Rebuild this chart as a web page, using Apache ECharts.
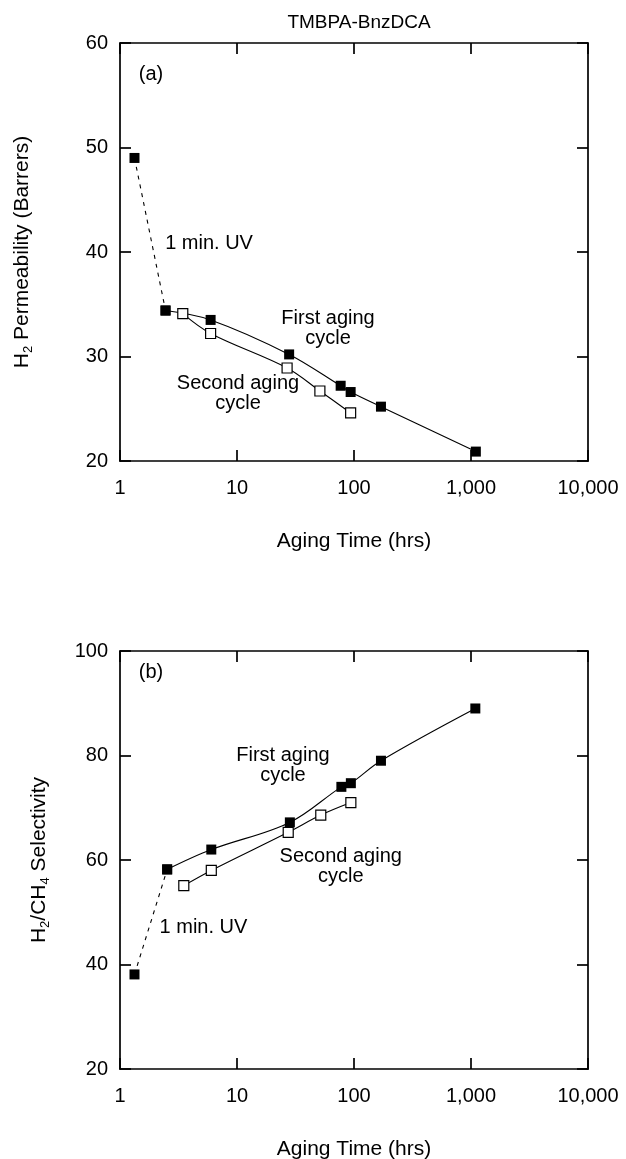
<!DOCTYPE html>
<html>
<head>
<meta charset="utf-8">
<script src="https://cdn.jsdelivr.net/npm/echarts@6/dist/echarts.min.js"></script>
<style>
  html, body { margin: 0; padding: 0; background: #fff; }
  #chart { width: 626px; height: 1159px; }
</style>
</head>
<body>
<div id="chart"></div>
<script>
// aging time ticks (log axis)
const xTicks = [1, 10, 100, 1000, 10000]
const yTicksA = [20, 30, 40, 50, 60]
const yTicksB = [20, 40, 60, 80, 100]

// (a) H2 permeability
const uvTimeA = [1.33, 2.45]
const uvPermA = [49.0, 34.4]
const firstTimeA = [2.45, 5.95, 27.9, 76.9, 93.6, 170, 1100]
const firstPermA = [34.4, 33.5, 30.2, 27.2, 26.6, 25.2, 20.9]
const secondTimeA = [3.44, 5.95, 26.8, 51.1, 93.6]
const secondPermA = [34.1, 32.2, 28.9, 26.7, 24.6]

// (b) H2/CH4 selectivity
const uvTimeB = [1.33, 2.53]
const uvSelB = [38.1, 58.2]
const firstTimeB = [2.53, 6.03, 28.3, 78, 94, 170, 1089]
const firstSelB = [58.2, 62.0, 67.2, 74.0, 74.7, 79.0, 89.0]
const secondTimeB = [3.51, 6.03, 27.4, 52, 94]
const secondSelB = [55.1, 58.0, 65.3, 68.6, 71.0]

// text notes, placed in data coordinates [text, time, value]
const notesA = [
  ['(a)', 1.84, 57.0],
  ['1 min. UV', 5.77, 40.8],
  ['First aging\ncycle', 60, 32.7],
  ['Second aging\ncycle', 10.2, 26.5],
]
const notesB = [
  ['(b)', 1.84, 95.8],
  ['First aging\ncycle', 24.7, 78.1],
  ['Second aging\ncycle', 77, 58.8],
  ['1 min. UV', 5.17, 47.0],
]

const font = "'Liberation Sans', Arial, Helvetica, sans-serif"
const black = '#000'

const zip = (xs, ys) => xs.map((x, i) => [x, ys[i]])

function xAxes(grid) {
  const base = {
    gridIndex: grid,
    type: 'log',
    logBase: 10,
    min: xTicks[0],
    max: xTicks[xTicks.length - 1],
    axisLine: { show: true, lineStyle: { color: black, width: 1.7 } },
    axisTick: { show: true, inside: true, length: 11, lineStyle: { color: black, width: 1.7 } },
    splitLine: { show: false },
    minorTick: { show: false },
  }
  return [
    {
      ...base,
      position: 'bottom',
      axisLabel: {
        margin: 17,
        color: black,
        fontFamily: font,
        fontSize: 20,
        formatter: (v) => Math.round(v).toLocaleString('en-US'),
      },
      name: 'Aging Time (hrs)',
      nameLocation: 'middle',
      nameGap: 70,
      nameTextStyle: { color: black, fontFamily: font, fontSize: 21 },
    },
    { ...base, position: 'top', axisLabel: { show: false } },
  ]
}

function yAxes(grid, ticks, name, gap) {
  const base = {
    gridIndex: grid,
    type: 'value',
    min: ticks[0],
    max: ticks[ticks.length - 1],
    interval: ticks[1] - ticks[0],
    axisLine: { show: true, lineStyle: { color: black, width: 1.7 } },
    axisTick: { show: true, inside: true, length: 11, lineStyle: { color: black, width: 1.7 } },
    splitLine: { show: false },
  }
  return [
    {
      ...base,
      position: 'left',
      axisLabel: { margin: 12, color: black, fontFamily: font, fontSize: 20 },
      name,
      nameLocation: 'middle',
      nameGap: gap,
      nameTextStyle: {
        color: black,
        fontFamily: font,
        rich: {
          m: { fontSize: 21, fontFamily: font, color: black, lineHeight: 26 },
          s: { fontSize: 13, fontFamily: font, color: black, lineHeight: 12, verticalAlign: 'bottom' },
        },
      },
    },
    { ...base, position: 'right', axisLabel: { show: false } },
  ]
}

function panelSeries(xi, yi, uv, first, second, notes) {
  const filled = { color: black }
  return [
    {
      type: 'line',
      xAxisIndex: xi,
      yAxisIndex: yi,
      data: uv,
      symbol: 'rect',
      symbolSize: 10,
      itemStyle: filled,
      lineStyle: { color: black, width: 1.1, type: [4, 5] },
      z: 2,
    },
    {
      type: 'line',
      xAxisIndex: xi,
      yAxisIndex: yi,
      data: first,
      smooth: 0.35,
      symbol: 'rect',
      symbolSize: 10,
      itemStyle: filled,
      lineStyle: { color: black, width: 1.1 },
      z: 3,
    },
    {
      type: 'line',
      xAxisIndex: xi,
      yAxisIndex: yi,
      data: second,
      smooth: 0.35,
      symbol: 'rect',
      symbolSize: 10,
      itemStyle: { color: '#fff', borderColor: black, borderWidth: 1.2 },
      lineStyle: { color: black, width: 1.1 },
      z: 4,
    },
    {
      type: 'scatter',
      xAxisIndex: xi,
      yAxisIndex: yi,
      silent: true,
      symbolSize: 0,
      itemStyle: { color: black, opacity: 1 },
      data: notes.map(([t, x, y]) => ({ name: t, value: [x, y] })),
      label: {
        show: true,
        position: 'inside',
        formatter: (p) => p.name,
        color: black,
        opacity: 1,
        textBorderWidth: 0,
        fontFamily: font,
        fontSize: 20,
        lineHeight: 20,
        align: 'center',
      },
      z: 5,
    },
  ]
}

const chart = echarts.init(document.getElementById('chart'), null, { renderer: 'canvas' })

chart.setOption({
  animation: false,
  backgroundColor: '#fff',
  title: {
    text: 'TMBPA-BnzDCA',
    left: 354,
    top: 8,
    textAlign: 'center',
    textStyle: { color: black, fontFamily: font, fontSize: 19, fontWeight: 'normal' },
  },
  grid: [
    { left: 120, top: 43, width: 468, height: 418, containLabel: false, outerBoundsMode: 'none' },
    { left: 120, top: 651, width: 468, height: 418, containLabel: false, outerBoundsMode: 'none' },
  ],
  xAxis: [...xAxes(0), ...xAxes(1)],
  yAxis: [
    ...yAxes(0, yTicksA, '{m|H}{s|2}{m| Permeability (Barrers)}', 85),
    ...yAxes(1, yTicksB, '{m|H}{s|2}{m|/CH}{s|4}{m| Selectivity}', 68),
  ],
  series: [
    ...panelSeries(0, 0, zip(uvTimeA, uvPermA), zip(firstTimeA, firstPermA), zip(secondTimeA, secondPermA), notesA),
    ...panelSeries(2, 2, zip(uvTimeB, uvSelB), zip(firstTimeB, firstSelB), zip(secondTimeB, secondSelB), notesB),
  ],
})
</script>
</body>
</html>
